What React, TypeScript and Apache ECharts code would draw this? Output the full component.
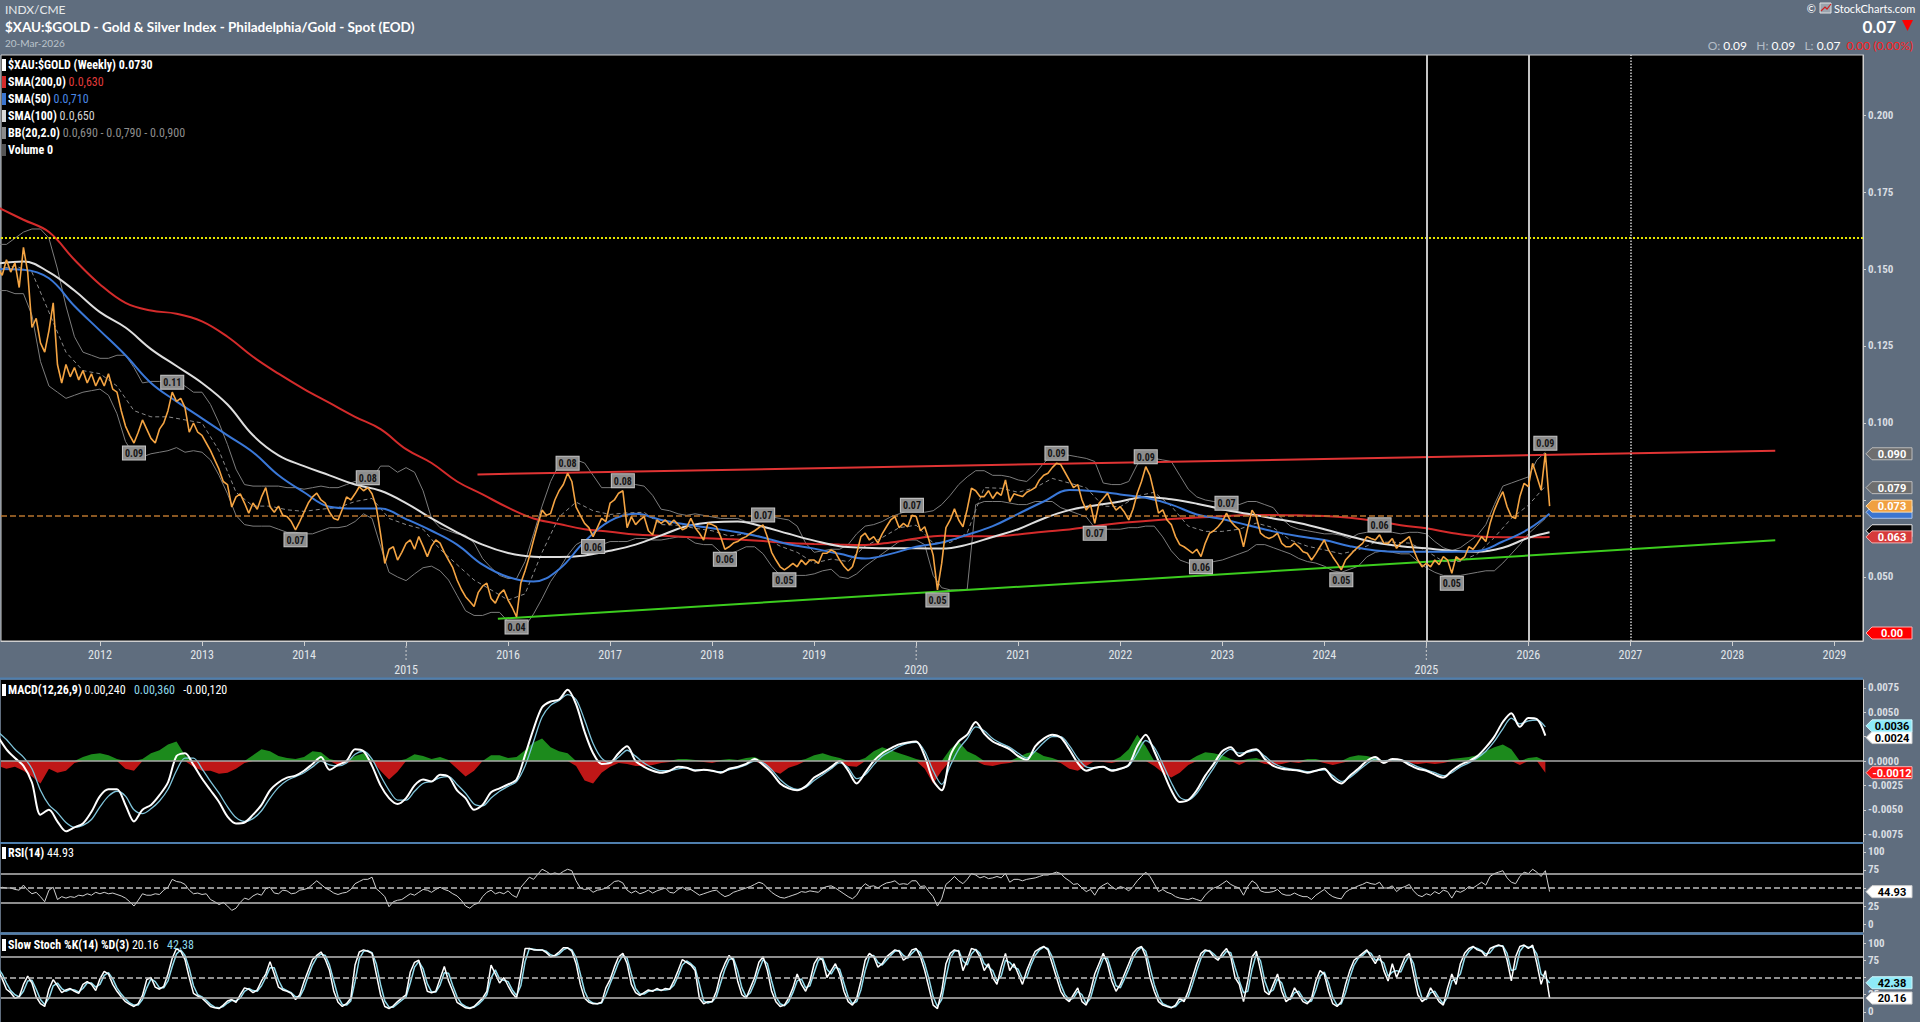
import React, { useEffect, useRef } from "react";
import * as echarts from "echarts";

// ---------------- axis extents / ticks ----------------
const X_MIN = 2011.03;
const X_MAX = 2029.28;
const YEAR_TICKS = [2012, 2013, 2014, 2015, 2016, 2017, 2018, 2019, 2020, 2021, 2022, 2023, 2024, 2025, 2026, 2027, 2028, 2029];
const MAIN_TICKS = [0.05, 0.075, 0.1, 0.125, 0.15, 0.175, 0.2];
const MACD_TICKS = [-0.0075, -0.005, -0.0025, 0, 0.0025, 0.005, 0.0075];
const OSC_TICKS = [0, 25, 50, 75, 100];
// tick labels that are not covered by the value tags
const MAIN_LABELS = [0.05, 0.1, 0.125, 0.15, 0.175, 0.2];
const MACD_LABELS = [-0.0075, -0.005, -0.0025, 0, 0.005, 0.0075];
const OSC_LABELS = [0, 25, 75, 100];

// ---------------- data ----------------
const START = 2011;
const LAST_DATE = 2026.208;
const SEMI = 1 / 24; // semi-monthly samples
const MONTH = 1 / 12;
const BIMONTH = 1 / 6;

// $XAU:$GOLD weekly close, sampled twice a month from Jan 2011
const price = [
  0.150, 0.148, 0.153, 0.149, 0.152, 0.144, 0.157, 0.149, 0.131, 0.134, 0.126, 0.123, 0.130, 0.139, 0.119, 0.113, 0.119, 0.115, 0.118, 0.114, 0.117, 0.113, 0.116, 0.112,
  0.115, 0.112, 0.116, 0.111, 0.110, 0.104, 0.099, 0.096, 0.0935, 0.097, 0.101, 0.098, 0.095, 0.0935, 0.098, 0.100, 0.104, 0.110, 0.107, 0.108, 0.105, 0.097, 0.100, 0.097,
  0.096, 0.0935, 0.091, 0.088, 0.085, 0.081, 0.080, 0.0727, 0.076, 0.077, 0.074, 0.0707, 0.074, 0.072, 0.076, 0.079, 0.0728, 0.071, 0.073, 0.070, 0.0696, 0.068, 0.0653, 0.068,
  0.071, 0.074, 0.076, 0.0772, 0.075, 0.074, 0.071, 0.069, 0.0685, 0.072, 0.076, 0.075, 0.077, 0.0793, 0.078, 0.079, 0.077, 0.0728, 0.064, 0.0544, 0.059, 0.0598, 0.0555, 0.058,
  0.0609, 0.062, 0.059, 0.0631, 0.060, 0.0566, 0.060, 0.062, 0.061, 0.058, 0.0555, 0.053, 0.049, 0.046, 0.0436, 0.042, 0.0404, 0.045, 0.047, 0.048, 0.043, 0.0415, 0.0445, 0.0458,
  0.0425, 0.040, 0.037, 0.048, 0.052, 0.0566, 0.062, 0.067, 0.0717, 0.070, 0.0706, 0.075, 0.078, 0.080, 0.0837, 0.081, 0.0727, 0.070, 0.0674, 0.066, 0.0631, 0.066, 0.069, 0.068,
  0.074, 0.075, 0.0772, 0.078, 0.066, 0.0696, 0.067, 0.0685, 0.0696, 0.065, 0.0637, 0.0685, 0.0674, 0.0685, 0.067, 0.0685, 0.067, 0.0653, 0.066, 0.069, 0.066, 0.0642, 0.062, 0.0674,
  0.067, 0.0663, 0.0631, 0.059, 0.0598, 0.061, 0.0615, 0.0625, 0.0631, 0.0642, 0.065, 0.066, 0.0669, 0.063, 0.058, 0.0555, 0.0533, 0.0523, 0.0533, 0.0544, 0.0533, 0.0555, 0.054, 0.0555,
  0.0555, 0.0544, 0.0577, 0.0577, 0.0588, 0.058, 0.0555, 0.0535, 0.052, 0.0533, 0.0577, 0.0631, 0.0642, 0.062, 0.0631, 0.061, 0.064, 0.0663, 0.0685, 0.0696, 0.066, 0.0674, 0.0663, 0.070,
  0.0696, 0.065, 0.0663, 0.062, 0.057, 0.0458, 0.0544, 0.066, 0.0685, 0.0721, 0.0685, 0.0663, 0.072, 0.0788, 0.078, 0.0761, 0.0761, 0.078, 0.0755, 0.0775, 0.0765, 0.0815, 0.0745, 0.077,
  0.0765, 0.0761, 0.0775, 0.0782, 0.079, 0.0815, 0.083, 0.0837, 0.0855, 0.0869, 0.0865, 0.084, 0.0815, 0.079, 0.080, 0.075, 0.0717, 0.0735, 0.0674, 0.0739, 0.0755, 0.0772, 0.074, 0.0717,
  0.0728, 0.071, 0.0685, 0.072, 0.0772, 0.081, 0.0858, 0.083, 0.0772, 0.0707, 0.0718, 0.0685, 0.067, 0.0631, 0.0605, 0.0598, 0.0588, 0.0577, 0.059, 0.0566, 0.061, 0.0642, 0.065, 0.0663,
  0.068, 0.0707, 0.068, 0.0665, 0.0653, 0.0598, 0.066, 0.0717, 0.0696, 0.0642, 0.0631, 0.0625, 0.0631, 0.0642, 0.0609, 0.0598, 0.0598, 0.061, 0.0598, 0.0582, 0.0577, 0.0555, 0.0575, 0.0598,
  0.062, 0.0588, 0.0565, 0.0545, 0.0523, 0.0555, 0.057, 0.0585, 0.0598, 0.0609, 0.0631, 0.0625, 0.062, 0.0637, 0.061, 0.0609, 0.0625, 0.0593, 0.061, 0.062, 0.0631, 0.0588, 0.0555, 0.0533,
  0.0544, 0.0533, 0.0555, 0.054, 0.0566, 0.0555, 0.0512, 0.0566, 0.0555, 0.0565, 0.0598, 0.059, 0.0609, 0.0631, 0.0615, 0.0674, 0.0717, 0.075, 0.0777, 0.0728, 0.0696, 0.069, 0.0761, 0.0804,
  0.0793, 0.0869, 0.0826, 0.0782, 0.0902, 0.073,
];

// swing-high / swing-low price labels (index into price, label above or below)
const PEAK_IDX = [32, 41, 70, 87, 122, 134, 140, 147, 171, 180, 185, 215, 221, 249, 258, 270, 283, 289, 316, 325, 342, 364];
const PEAK_SIDE = ["bottom", "top", "bottom", "top", "bottom", "top", "bottom", "top", "bottom", "top", "bottom", "top", "bottom", "top", "bottom", "top", "bottom", "top", "bottom", "top", "bottom", "top"];

// Moving averages, quarterly from Jan 2011 plus the last date
const sma200 = [
  0.170, 0.166, 0.162, 0.153, 0.145, 0.139, 0.1365, 0.1355, 0.133, 0.128, 0.1215, 0.116, 0.111, 0.1065, 0.102, 0.098,
  0.0915, 0.087, 0.081, 0.0768, 0.0725, 0.069, 0.0672, 0.0655, 0.0647, 0.0638, 0.0634, 0.063, 0.0625, 0.0622, 0.0617, 0.061,
  0.0607, 0.0605, 0.0604, 0.0612, 0.0625, 0.0634, 0.0632, 0.0632, 0.0638, 0.0647, 0.0654, 0.0665, 0.0675, 0.0682, 0.0688, 0.0693,
  0.0697, 0.0701, 0.0701, 0.070, 0.0698, 0.0692, 0.0682, 0.0668, 0.0658, 0.0643, 0.0632, 0.0629, 0.0629, 0.063,
];
const sma100 = [
  0.1518, 0.1524, 0.149, 0.143, 0.136, 0.131, 0.124, 0.1185, 0.113, 0.106, 0.096, 0.0895, 0.086, 0.083, 0.080, 0.078,
  0.074, 0.069, 0.0645, 0.0605, 0.0578, 0.0566, 0.0565, 0.057, 0.0585, 0.0605, 0.0635, 0.0665, 0.0678, 0.068, 0.0663, 0.064,
  0.0618, 0.060, 0.0595, 0.0593, 0.0593, 0.0592, 0.0605, 0.063, 0.0655, 0.069, 0.0717, 0.0732, 0.0745, 0.076, 0.0752, 0.0738,
  0.072, 0.0705, 0.069, 0.0675, 0.0655, 0.0632, 0.0612, 0.060, 0.0593, 0.0585, 0.0582, 0.0595, 0.0627, 0.0645,
];
const sma50 = [
  0.150, 0.1498, 0.147, 0.138, 0.130, 0.122, 0.113, 0.107, 0.1015, 0.096, 0.0905, 0.083, 0.0775, 0.0728, 0.0722, 0.0722,
  0.0688, 0.065, 0.0605, 0.054, 0.050, 0.0485, 0.0525, 0.0615, 0.0682, 0.0705, 0.0685, 0.067, 0.0658, 0.0645, 0.0628, 0.0606,
  0.0592, 0.0575, 0.056, 0.0575, 0.0598, 0.0612, 0.0637, 0.0665, 0.0705, 0.0745, 0.0782, 0.0778, 0.0768, 0.0757, 0.0735, 0.0703,
  0.0688, 0.0668, 0.0648, 0.0632, 0.062, 0.060, 0.0586, 0.0582, 0.0582, 0.0582, 0.0584, 0.0615, 0.0655, 0.0705,
];

// Bollinger Bands (20, 2.0), monthly
const bbUpper = [
  0.158, 0.158, 0.160, 0.162, 0.163, 0.163, 0.160, 0.150, 0.138, 0.128, 0.123, 0.122,
  0.121, 0.121, 0.122, 0.122, 0.118, 0.113, 0.1135, 0.1135, 0.1135, 0.113, 0.112, 0.110,
  0.110, 0.106, 0.100, 0.093, 0.085, 0.080, 0.0795, 0.0795, 0.0795, 0.0795, 0.079, 0.079,
  0.0785, 0.079, 0.0795, 0.079, 0.079, 0.080, 0.081, 0.0815, 0.082, 0.086, 0.086, 0.084,
  0.0855, 0.084, 0.078, 0.069, 0.066, 0.065, 0.064, 0.0635, 0.061, 0.056, 0.053, 0.0505,
  0.0495, 0.0495, 0.055, 0.064, 0.073, 0.081, 0.0865, 0.088, 0.088, 0.087, 0.083, 0.079,
  0.079, 0.0795, 0.080, 0.080, 0.0795, 0.0765, 0.072, 0.0715, 0.0705, 0.070, 0.0705, 0.070,
  0.0695, 0.069, 0.069, 0.069, 0.068, 0.068, 0.0685, 0.0695, 0.069, 0.0685, 0.0665, 0.061,
  0.058, 0.0585, 0.059, 0.059, 0.0605, 0.064, 0.0665, 0.067, 0.068, 0.0695, 0.0705, 0.0715,
  0.0715, 0.071, 0.0715, 0.0735, 0.0765, 0.080, 0.0825, 0.0845, 0.0845, 0.083, 0.083, 0.0825,
  0.0815, 0.081, 0.0835, 0.087, 0.0895, 0.090, 0.0895, 0.089, 0.0885, 0.0875, 0.0805, 0.080,
  0.080, 0.081, 0.0865, 0.0885, 0.0885, 0.088, 0.0875, 0.083, 0.0785, 0.076, 0.075, 0.0745,
  0.074, 0.0745, 0.0735, 0.0745, 0.0745, 0.0735, 0.0725, 0.069, 0.0665, 0.0655, 0.065, 0.0645,
  0.064, 0.064, 0.0635, 0.0625, 0.064, 0.0645, 0.0645, 0.0645, 0.0645, 0.064, 0.0645, 0.0645,
  0.064, 0.0615, 0.0595, 0.0585, 0.0595, 0.0615, 0.0635, 0.067, 0.0735, 0.0795, 0.0805, 0.0815,
  0.0825, 0.088, 0.0905,
];
const bbLower = [
  0.143, 0.143, 0.142, 0.142, 0.135, 0.120, 0.112, 0.110, 0.108, 0.109, 0.110, 0.1105,
  0.111, 0.109, 0.103, 0.094, 0.0895, 0.089, 0.090, 0.0905, 0.091, 0.092, 0.0905, 0.091,
  0.0905, 0.088, 0.083, 0.077, 0.070, 0.067, 0.0665, 0.0665, 0.0665, 0.0655, 0.0645, 0.0645,
  0.064, 0.064, 0.065, 0.066, 0.066, 0.0665, 0.068, 0.0705, 0.069, 0.060, 0.0515, 0.050,
  0.0488, 0.051, 0.053, 0.0535, 0.052, 0.049, 0.044, 0.039, 0.0375, 0.0375, 0.0385, 0.0385,
  0.0355, 0.033, 0.034, 0.038, 0.043, 0.0485, 0.0525, 0.057, 0.0605, 0.062, 0.060, 0.0605,
  0.0615, 0.0615, 0.0615, 0.0625, 0.0625, 0.062, 0.062, 0.0625, 0.063, 0.0628, 0.061, 0.0605,
  0.0605, 0.058, 0.0575, 0.0585, 0.0598, 0.0598, 0.0575, 0.0535, 0.0505, 0.0495, 0.0505, 0.0505,
  0.051, 0.052, 0.0525, 0.050, 0.0495, 0.051, 0.0535, 0.0555, 0.0575, 0.0595, 0.0615, 0.062,
  0.062, 0.0605, 0.0505, 0.0465, 0.0458, 0.0458, 0.046, 0.0735, 0.0745, 0.0745, 0.0745, 0.074,
  0.0735, 0.0735, 0.0745, 0.0745, 0.0745, 0.0725, 0.0715, 0.0705, 0.0695, 0.066, 0.0655, 0.0655,
  0.0655, 0.066, 0.066, 0.0665, 0.0665, 0.063, 0.0585, 0.0555, 0.0545, 0.0545, 0.0545, 0.055,
  0.0555, 0.0565, 0.0575, 0.0585, 0.0605, 0.0605, 0.0595, 0.0585, 0.0575, 0.056, 0.055, 0.0545,
  0.0535, 0.052, 0.0515, 0.0525, 0.0535, 0.0565, 0.058, 0.0585, 0.058, 0.0575, 0.0575, 0.055,
  0.053, 0.0515, 0.0505, 0.0505, 0.0505, 0.051, 0.0515, 0.052, 0.052, 0.0545, 0.0575, 0.0605,
  0.064, 0.0665, 0.069,
];
// BB middle band, every two months
const bbMid = [
  0.150, 0.151, 0.149, 0.136, 0.123, 0.117, 0.116, 0.112, 0.104, 0.102, 0.102, 0.101,
  0.100, 0.091, 0.0775, 0.073, 0.073, 0.0718, 0.0713, 0.072, 0.0725, 0.0745, 0.0755, 0.069,
  0.067, 0.0655, 0.059, 0.054, 0.049, 0.0458, 0.0425, 0.0445, 0.058, 0.0695, 0.0743, 0.0715,
  0.0703, 0.0708, 0.071, 0.067, 0.0668, 0.0658, 0.065, 0.0633, 0.064, 0.063, 0.060, 0.058,
  0.0545, 0.0558, 0.055, 0.060, 0.0628, 0.066, 0.0668, 0.061, 0.0612, 0.0643, 0.079, 0.0788,
  0.0775, 0.079, 0.082, 0.0805, 0.079, 0.073, 0.0728, 0.0763, 0.0775, 0.073, 0.0665, 0.0648,
  0.0648, 0.0655, 0.0675, 0.066, 0.062, 0.060, 0.0588, 0.0575, 0.0588, 0.0613, 0.0613, 0.061,
  0.0585, 0.055, 0.055, 0.0575, 0.0628, 0.069, 0.0733, 0.0795,
];

// Trend lines drawn on the chart: [year, value] end points
const resistanceLine = [[2015.7, 0.0833], [2028.42, 0.091]];
const supportLine = [[2015.9, 0.0364], [2028.42, 0.0619]];
const YELLOW_LEVEL = 0.1625;
const LAST_CLOSE = 0.073;
const MARKED_YEARS = [2025, 2026];
const DOTTED_YEAR = 2027;

// MACD(12,26,9), monthly
const macd = [
  0.0025, 0.0012, 0.0003, -0.0005, -0.0022, -0.0055, -0.005, -0.0062, -0.0072, -0.0068, -0.0064, -0.0052,
  -0.0036, -0.0029, -0.0029, -0.0045, -0.0062, -0.005, -0.0045, -0.0035, -0.0022, 0.0005, 0.0008, -0.0004,
  -0.0018, -0.003, -0.0042, -0.0057, -0.0064, -0.0063, -0.0055, -0.0045, -0.003, -0.0022, -0.0017, -0.0015,
  -0.001, -0.0003, 0.0004, -0.0009, -0.0004, 0, 0.0012, 0.001, -0.0005, -0.0025, -0.0038, -0.0044,
  -0.0038, -0.0025, -0.0019, -0.0021, -0.0014, -0.0016, -0.003, -0.0038, -0.005, -0.0045, -0.0032, -0.0028,
  -0.0024, -0.0019, 0.0006, 0.0033, 0.0055, 0.0061, 0.0063, 0.0073, 0.0058, 0.003, 0.0008, -0.0003,
  -0.0002, 0.0008, 0.0015, 0, -0.0006, -0.001, -0.0012, -0.001, -0.0006, -0.0007, -0.001, -0.0009,
  -0.001, -0.0012, -0.0008, -0.0006, -0.0003, 0.0002, -0.0004, -0.0012, -0.0023, -0.0028, -0.003, -0.0026,
  -0.0017, -0.0012, -0.0006, 0, -0.001, -0.0023, -0.0012, 0, 0.0008, 0.0013, 0.0017, 0.0019,
  0.002, 0.0005, -0.002, -0.003, 0.0005, 0.002, 0.0027, 0.004, 0.0028, 0.002, 0.0016, 0.0012,
  0.0005, 0.0001, 0.0015, 0.0023, 0.0027, 0.0024, 0.0012, -0.0002, -0.001, -0.0007, -0.0006, -0.001,
  -0.0008, -0.0004, 0.0015, 0.0027, 0.001, -0.001, -0.003, -0.0042, -0.004, -0.003, -0.0015, -0.0003,
  0.001, 0.0014, 0.0005, 0.001, 0.0012, 0.0002, -0.0005, -0.0008, -0.0009, -0.001, -0.0012, -0.001,
  -0.0008, -0.0018, -0.0023, -0.0015, -0.0008, 0, 0.0004, -0.0002, 0.0002, 0.0001, -0.0004, -0.0008,
  -0.001, -0.0014, -0.0017, -0.001, -0.0004, 0, 0.0005, 0.0014, 0.0025, 0.004, 0.0049, 0.0035,
  0.0044, 0.0043, 0.0026,
];
const macdSignal = [
  0.003, 0.0022, 0.0012, 0.0004, -0.0008, -0.003, -0.0045, -0.0053, -0.0063, -0.0068, -0.0066, -0.006,
  -0.0047, -0.0036, -0.0031, -0.0036, -0.005, -0.0054, -0.0049, -0.0041, -0.0029, -0.001, 0.0003, 0.0003,
  -0.0008, -0.0021, -0.0033, -0.0047, -0.0058, -0.0062, -0.0059, -0.0051, -0.0038, -0.0027, -0.002, -0.0016,
  -0.0012, -0.0006, 0, -0.0004, -0.0005, -0.0002, 0.0007, 0.001, 0.0002, -0.0015, -0.003, -0.004,
  -0.004, -0.0031, -0.0023, -0.0021, -0.0017, -0.0016, -0.0024, -0.0033, -0.0044, -0.0046, -0.0038, -0.0031,
  -0.0026, -0.0021, -0.0005, 0.002, 0.0045, 0.0057, 0.0062, 0.0068, 0.0063, 0.0042, 0.0018, 0.0003,
  -0.0002, 0.0004, 0.0011, 0.0005, -0.0002, -0.0007, -0.001, -0.001, -0.0008, -0.0007, -0.0009, -0.0009,
  -0.001, -0.0011, -0.0009, -0.0007, -0.0004, 0, -0.0002, -0.0009, -0.0019, -0.0026, -0.0029, -0.0027,
  -0.002, -0.0014, -0.0008, -0.0002, -0.0007, -0.0018, -0.0014, -0.0004, 0.0005, 0.001, 0.0015, 0.0018,
  0.0019, 0.001, -0.001, -0.0024, -0.0005, 0.0012, 0.0023, 0.0035, 0.0031, 0.0023, 0.0018, 0.0014,
  0.0008, 0.0003, 0.001, 0.0019, 0.0025, 0.0025, 0.0016, 0.0003, -0.0006, -0.0007, -0.0006, -0.0009,
  -0.0008, -0.0005, 0.0008, 0.0021, 0.0014, -0.0003, -0.0022, -0.0037, -0.004, -0.0033, -0.002, -0.0007,
  0.0006, 0.0012, 0.0008, 0.0009, 0.0011, 0.0005, -0.0002, -0.0006, -0.0008, -0.0009, -0.0011, -0.001,
  -0.0009, -0.0015, -0.0021, -0.0017, -0.001, -0.0003, 0.0002, 0, 0.0001, 0.0001, -0.0002, -0.0006,
  -0.0009, -0.0012, -0.0015, -0.0012, -0.0006, -0.0002, 0.0003, 0.001, 0.002, 0.0033, 0.0044, 0.0038,
  0.0041, 0.0042, 0.0035,
];
const macdHist = [
  -0.0005, -0.0008, -0.0006, -0.001, -0.0016, -0.0023, -0.0008, -0.0012, -0.001, -0.0002, 0.0004, 0.0007,
  0.0008, 0.0006, 0.0002, -0.0008, -0.001, 0.0002, 0.0008, 0.0011, 0.0017, 0.002, 0.0006, -0.0006,
  -0.001, -0.001, -0.0013, -0.0012, -0.0008, -0.0002, 0.0006, 0.0012, 0.001, 0.0005, 0.0003, 0.0002,
  0.0004, 0.001, 0.0009, 0.0002, -0.0004, -0.0002, 0.0005, 0.0008, 0.0001, -0.001, -0.0019, -0.0011,
  0.0002, 0.0007, 0.0005, 0.0002, 0.0004, 0.0001, -0.0008, -0.0016, -0.001, 0, 0.0006, 0.0006,
  0.0003, 0.0004, 0.0011, 0.0019, 0.0023, 0.0014, 0.001, 0.0008, -0.0005, -0.002, -0.0023, -0.0012,
  -0.0006, -0.0002, -0.0003, -0.0005, -0.0005, -0.0004, -0.0002, -0.0001, 0.0002, 0.0002, 0.0001, -0.0001,
  -0.0002, 0.0001, 0.0002, 0.0001, 0.0003, 0.0004, -0.0004, -0.001, -0.0013, -0.0007, -0.0004, 0.0002,
  0.0006, 0.0008, 0.0005, 0.0003, -0.0005, -0.0006, 0.0003, 0.001, 0.0014, 0.0011, 0.0008, 0.0005,
  0.0002, -0.0008, -0.0023, -0.001, 0.0012, 0.002, 0.001, 0.0006, -0.0004, -0.0005, -0.0003, -0.0002,
  0.0004, 0.0008, 0.001, 0.0005, 0.0003, -0.0002, -0.0008, -0.001, -0.0005, 0, -0.0001, -0.0002,
  0.0004, 0.0012, 0.0027, 0.0015, -0.0005, -0.0012, -0.0017, -0.0012, -0.0004, 0.0005, 0.0009, 0.0008,
  0.0006, 0.0002, -0.0004, 0.0002, 0.0003, -0.0003, -0.0004, -0.0003, -0.0001, -0.0002, 0.0002, 0.0002,
  -0.0002, -0.0004, -0.0002, 0.0004, 0.0006, 0.0005, 0.0003, -0.0002, 0.0002, 0.0001, -0.0002, -0.0003,
  -0.0002, -0.0003, -0.0002, 0.0002, 0.0003, 0.0004, 0.0006, 0.001, 0.0014, 0.0017, 0.0012, -0.0004,
  0.0003, 0.0004, -0.0012,
];

// RSI(14), semi-monthly
const rsi = [
  49, 51, 50, 50, 48, 47, 54, 47, 42, 44, 38, 31, 47, 51, 34, 38, 36, 38, 37, 40, 39, 42, 40, 44,
  42, 44, 42, 43, 41, 39, 36, 31, 25, 33, 42, 40, 40, 42, 41, 47, 51, 62, 59, 58, 55, 47, 42, 43,
  41, 42, 34, 31, 27, 30, 25, 19, 22, 30, 36, 34, 39, 42, 40, 49, 51, 43, 42, 47, 46, 42, 43, 47,
  48, 50, 55, 60, 55, 50, 47, 43, 41, 43, 44, 48, 56, 59, 62, 62, 65, 49, 44, 38, 24, 31, 33, 34,
  38, 42, 40, 44, 48, 47, 44, 48, 51, 48, 46, 42, 39, 33, 25, 22, 27, 29, 38, 44, 47, 42, 44, 42,
  46, 40, 37, 51, 58, 65, 62, 69, 76, 73, 69, 71, 69, 73, 76, 74, 60, 50, 48, 49, 44, 47, 48, 50,
  54, 59, 60, 57, 47, 43, 46, 42, 44, 47, 43, 46, 48, 50, 44, 43, 48, 51, 47, 48, 44, 40, 42, 44,
  46, 47, 42, 38, 40, 44, 46, 48, 50, 52, 55, 58, 56, 50, 44, 40, 37, 36, 38, 40, 42, 45, 44, 46,
  45, 44, 50, 52, 53, 50, 46, 42, 38, 35, 40, 50, 56, 52, 53, 50, 54, 57, 58, 60, 55, 56, 55, 60,
  60, 52, 53, 45, 38, 25, 35, 55, 60, 66, 60, 56, 62, 70, 68, 64, 66, 63, 64, 66, 64, 70, 58, 62,
  62, 60, 62, 63, 64, 66, 68, 68, 70, 72, 70, 64, 60, 55, 56, 50, 45, 48, 40, 50, 54, 57, 52, 48,
  52, 50, 46, 52, 60, 66, 72, 66, 56, 45, 48, 44, 42, 38, 36, 35, 34, 36, 34, 32, 40, 46, 50, 52,
  56, 60, 55, 52, 50, 40, 52, 60, 56, 46, 44, 44, 45, 48, 42, 40, 40, 43, 40, 38, 38, 34, 40, 44,
  48, 42, 38, 36, 35, 44, 48, 50, 53, 55, 58, 56, 55, 58, 50, 50, 53, 45, 50, 52, 55, 46, 40, 38,
  42, 40, 45, 42, 47, 45, 36, 46, 44, 47, 52, 50, 54, 58, 54, 66, 70, 72, 74, 64, 58, 56, 66, 72,
  70, 76, 72, 66, 74, 45,
];
const RSI_HIGH = 70;
const RSI_LOW = 30;

// Slow Stochastic %K(14) and %D(3), semi-monthly
const stochK = [
  61, 48, 33, 28, 20, 22, 40, 52, 42, 22, 12, 8, 33, 47, 38, 28, 32, 34, 30, 27, 40, 44, 40, 31,
  48, 59, 55, 40, 30, 22, 15, 11, 8, 12, 24, 47, 50, 36, 33, 37, 55, 78, 92, 88, 76, 50, 27, 23,
  20, 14, 8, 6, 5, 10, 16, 18, 14, 25, 35, 33, 28, 32, 45, 55, 73, 55, 36, 32, 30, 27, 18, 25,
  44, 60, 76, 82, 87, 76, 60, 30, 14, 8, 12, 20, 68, 87, 90, 88, 85, 55, 25, 8, 5, 9, 15, 20,
  25, 58, 72, 75, 52, 30, 28, 30, 48, 66, 45, 30, 14, 10, 6, 5, 8, 14, 20, 30, 68, 55, 42, 50,
  38, 27, 20, 55, 92, 92, 90, 90, 90, 86, 80, 82, 87, 93, 93, 88, 70, 40, 20, 14, 12, 12, 14, 35,
  47, 65, 80, 85, 70, 40, 28, 24, 28, 32, 30, 34, 31, 34, 33, 45, 60, 76, 72, 68, 60, 20, 12, 15,
  15, 30, 55, 70, 82, 75, 45, 25, 20, 35, 50, 72, 80, 60, 30, 15, 8, 10, 20, 35, 55, 40, 30, 45,
  70, 80, 75, 50, 60, 70, 55, 30, 15, 10, 20, 45, 75, 85, 80, 65, 70, 80, 85, 90, 88, 75, 80, 90,
  92, 80, 60, 35, 10, 5, 30, 70, 85, 90, 88, 60, 75, 92, 90, 80, 60, 70, 50, 40, 65, 85, 60, 70,
  55, 40, 60, 75, 88, 92, 95, 90, 70, 50, 30, 20, 15, 25, 35, 15, 10, 30, 55, 70, 85, 70, 45, 30,
  40, 55, 70, 85, 92, 95, 80, 50, 30, 15, 10, 8, 6, 10, 20, 15, 30, 50, 70, 85, 90, 88, 80, 75,
  85, 92, 80, 50, 40, 15, 45, 80, 88, 60, 30, 25, 40, 55, 30, 15, 20, 35, 25, 15, 12, 20, 45, 60,
  55, 30, 12, 8, 15, 40, 60, 75, 80, 85, 90, 80, 70, 82, 60, 45, 70, 50, 65, 80, 85, 55, 25, 15,
  20, 35, 25, 15, 10, 35, 55, 40, 70, 85, 92, 95, 90, 88, 80, 92, 95, 97, 95, 75, 45, 80, 95, 97,
  92, 97, 70, 40, 60, 20,
];
const stochD = [
  64, 55, 42, 31, 25, 22, 30, 45, 46, 33, 18, 11, 20, 38, 42, 34, 30, 33, 32, 29, 34, 42, 42, 36,
  40, 53, 57, 48, 35, 26, 19, 13, 10, 10, 18, 35, 48, 44, 35, 35, 45, 66, 84, 90, 82, 63, 38, 25,
  22, 17, 11, 7, 6, 8, 13, 17, 16, 20, 30, 34, 31, 30, 38, 50, 64, 64, 46, 34, 31, 28, 22, 22,
  34, 52, 68, 79, 84, 82, 68, 45, 22, 11, 10, 16, 44, 77, 88, 89, 86, 70, 40, 16, 7, 7, 12, 17,
  22, 42, 65, 73, 63, 41, 29, 29, 39, 57, 56, 38, 22, 12, 8, 6, 7, 11, 17, 25, 49, 61, 48, 46,
  44, 32, 24, 38, 73, 92, 91, 90, 90, 88, 83, 81, 84, 90, 93, 90, 79, 55, 30, 17, 13, 12, 13, 25,
  41, 56, 72, 82, 78, 55, 34, 26, 26, 30, 31, 32, 32, 32, 33, 39, 52, 68, 74, 70, 64, 40, 16, 13,
  15, 22, 42, 62, 76, 78, 60, 35, 22, 28, 42, 61, 76, 70, 45, 22, 12, 9, 15, 28, 45, 48, 35, 38,
  57, 75, 78, 62, 55, 65, 62, 42, 22, 12, 15, 32, 60, 80, 82, 72, 68, 75, 82, 88, 89, 82, 78, 85,
  91, 86, 70, 48, 22, 8, 18, 50, 78, 88, 89, 74, 68, 84, 91, 85, 70, 65, 60, 45, 52, 75, 72, 65,
  62, 48, 50, 68, 82, 90, 94, 92, 80, 60, 40, 25, 18, 20, 30, 25, 12, 20, 42, 62, 78, 78, 58, 38,
  35, 48, 62, 78, 88, 94, 88, 65, 40, 22, 12, 9, 7, 8, 15, 18, 22, 40, 60, 78, 88, 89, 84, 78,
  80, 88, 86, 65, 45, 28, 30, 62, 84, 74, 45, 28, 32, 48, 42, 22, 18, 28, 30, 20, 14, 16, 32, 52,
  58, 42, 21, 10, 12, 28, 50, 68, 78, 82, 88, 85, 75, 76, 71, 52, 58, 60, 58, 72, 82, 70, 40, 20,
  18, 28, 30, 20, 12, 22, 45, 48, 55, 78, 88, 94, 92, 89, 84, 86, 94, 96, 96, 85, 60, 62, 88, 96,
  94, 94, 84, 55, 50, 42,
];

// Last values shown in the price tags on the right axes (text "" = tag hidden behind others)
const MAIN_TAGS = [
  { v: 0.065, text: "", bg: "#050505", border: "#e8e8e8", fg: "#ffffff" },
  { v: 0.071, text: "", bg: "#3a75d0", border: "#a8c4ee", fg: "#ffffff" },
  { v: 0.063, text: "0.063", bg: "#d63a3a", border: "#f3b0b0", fg: "#ffffff" },
  { v: 0.079, text: "0.079", bg: "#6e6e6e", border: "#bdbdbd", fg: "#ffffff" },
  { v: 0.090, text: "0.090", bg: "#6e6e6e", border: "#bdbdbd", fg: "#ffffff" },
  { v: 0.073, text: "0.073", bg: "#f0a040", border: "#ffe0b0", fg: "#ffffff" },
];
const MACD_TAGS = [
  { v: -0.0012, text: "-0.0012", bg: "#ff1414", border: "#ffb0b0", fg: "#ffffff" },
  { v: 0.0024, text: "0.0024", bg: "#ffffff", border: "#d0d0d0", fg: "#000000" },
  { v: 0.0036, text: "0.0036", bg: "#8eeaf8", border: "#d0f6fc", fg: "#000000" },
];
const RSI_TAGS = [{ v: 44.93, text: "44.93", bg: "#ffffff", border: "#d0d0d0", fg: "#000000" }];
const STOCH_TAGS = [
  { v: 20.16, text: "20.16", bg: "#ffffff", border: "#d0d0d0", fg: "#000000" },
  { v: 42.38, text: "42.38", bg: "#8eeaf8", border: "#d0f6fc", fg: "#000000" },
];

// Legend texts
const MAIN_LEGEND = [
  { sw: "#ffffff", name: "$XAU:$GOLD (Weekly) 0.0730", val: "", col: "#ffffff" },
  { sw: "#d42b2b", name: "SMA(200,0)", val: "0.0,630", col: "#e23b3b" },
  { sw: "#3a75d0", name: "SMA(50)", val: "0.0,710", col: "#4a88e6" },
  { sw: "#d8d8d8", name: "SMA(100)", val: "0.0,650", col: "#d4d4d4" },
  { sw: "#8a8a8a", name: "BB(20,2.0)", val: "0.0,690 - 0.0,790 - 0.0,900", col: "#8e8e8e" },
  { sw: "#555555", name: "Volume 0", val: "", col: "#ffffff" },
];

// ---------------- styling / layout ----------------
const BG = "#5f6d7e";
const NARROW = "'Liberation Sans Narrow','Arial Narrow','Roboto Condensed','DejaVu Sans Condensed',sans-serif";
const LATO = "Lato, 'Open Sans', sans-serif";
const GRIDS = [
  { left: 1, top: 55, width: 1862, height: 586 },
  { left: 1, top: 680, width: 1862, height: 162 },
  { left: 1, top: 844, width: 1862, height: 88 },
  { left: 1, top: 935, width: 1862, height: 87 },
];
const Y_RANGES: [number, number][] = [
  [0.0292, 0.2195],
  [-0.0083, 0.0083],
  [-11, 111],
  [-14.5, 111.6],
];

const xy = (arr: number[], step: number, start = START) => arr.map((v, i) => [start + i * step, v]);
const smaYears = [...Array.from({ length: 61 }, (_, i) => START + i * 0.25), LAST_DATE];
const xyYears = (arr: number[]) => arr.map((v, i) => [smaYears[i], v]);

function tagEls(x: number, y: number, t: { text: string; bg: string; border: string; fg: string }) {
  const w = 46;
  const h = 12;
  const els: any[] = [
    {
      type: "polygon",
      z: 100,
      shape: { points: [[x, y], [x + 6, y - h / 2], [x + w, y - h / 2], [x + w, y + h / 2], [x + 6, y + h / 2]] },
      style: { fill: t.bg, stroke: t.border, lineWidth: 1 },
    },
  ];
  if (t.text) {
    els.push({
      type: "text",
      z: 101,
      x: x + 6 + (w - 6) / 2,
      y: y + 0.5,
      style: {
        text: t.text,
        fill: t.fg,
        font: "bold 11px Roboto, sans-serif",
        textAlign: "center",
        textVerticalAlign: "middle",
        align: "center",
        verticalAlign: "middle",
      },
    });
  }
  return els;
}

function txt(x: number, y: number, text: string, font: string, fill: string, align = "left", rich?: any) {
  return {
    type: "text",
    z: 50,
    x,
    y,
    style: {
      text,
      font,
      fill,
      textAlign: align,
      align,
      textVerticalAlign: "middle",
      verticalAlign: "middle",
      rich,
    },
  };
}

export default function App() {
  const ref = useRef<HTMLDivElement>(null);

  useEffect(() => {
    if (!ref.current) return;
    const chart = echarts.init(ref.current, undefined, { renderer: "svg" });

    const lineBase = (data: any, color: string, width: number, extra: any = {}) => ({
      type: "line",
      data,
      symbol: "none",
      silent: true,
      lineStyle: { color, width },
      ...extra,
    });

    const hline = (v: number, color: string, type: any, width = 1.5) => ({
      yAxis: v,
      lineStyle: { color, type, width },
    });

    const option: any = {
      animation: false,
      backgroundColor: BG,
      grid: GRIDS.map((g, i) => ({
        ...g,
        show: true,
        backgroundColor: "#000000",
        borderWidth: i === 0 ? 1 : 0,
        borderColor: "#cfcfcf",
        containLabel: false,
      })),
      xAxis: [0, 1, 2, 3].map((i) => ({
        gridIndex: i,
        type: "value",
        min: X_MIN,
        max: X_MAX,
        axisLine: { show: i === 0, lineStyle: { color: "#cfcfcf" } },
        axisTick: { show: i === 0, customValues: YEAR_TICKS, length: 5, lineStyle: { color: "#cfcfcf" } },
        axisLabel: {
          show: i === 0,
          customValues: YEAR_TICKS,
          formatter: (v: number) => (Math.round(v) % 5 === 0 ? "\n" : "") + Math.round(v),
          color: "#e2e6ea",
          fontSize: 12,
          fontFamily: NARROW,
          lineHeight: 15,
          margin: 6,
        },
        splitLine: { show: false },
      })),
      yAxis: [0, 1, 2, 3].map((i) => ({
        gridIndex: i,
        type: "value",
        position: "right",
        min: Y_RANGES[i][0],
        max: Y_RANGES[i][1],
        axisLine: { show: true, lineStyle: { color: "#cfcfcf" } },
        axisTick: {
          show: true,
          length: 3,
          customValues: i === 0 ? MAIN_TICKS : i === 1 ? MACD_TICKS : OSC_TICKS,
          lineStyle: { color: "#cfcfcf" },
        },
        axisLabel: {
          customValues: i === 0 ? MAIN_LABELS : i === 1 ? MACD_LABELS : OSC_LABELS,
          formatter: (v: number) => (i === 0 ? v.toFixed(3) : i === 1 ? v.toFixed(4) : String(Math.round(v))),
          color: "#d9dde2",
          fontSize: 11,
          fontWeight: "bold",
          fontFamily: NARROW,
          margin: 5,
        },
        splitLine: { show: false },
      })),
      series: [
        // ---- main panel
        lineBase(xy(bbUpper, MONTH), "#7c7c7c", 1),
        lineBase(xy(bbLower, MONTH), "#7c7c7c", 1),
        lineBase(xy(bbMid, BIMONTH), "#8a8a8a", 1, { lineStyle: { color: "#8a8a8a", width: 1, type: [4, 3] } }),
        lineBase(xyYears(sma200), "#d42b2b", 2, { smooth: 0.4 }),
        lineBase(xyYears(sma100), "#dedede", 2, { smooth: 0.4 }),
        lineBase(xyYears(sma50), "#3a78d8", 2, { smooth: 0.4 }),
        lineBase(xy(price, SEMI), "#f4a443", 1.6, {
          z: 5,
          markLine: {
            symbol: ["none", "none"],
            silent: true,
            label: { show: false },
            data: [
              hline(YELLOW_LEVEL, "#e2e200", "dotted", 2),
              hline(LAST_CLOSE, "#b8742e", "dashed", 1.5),
              ...MARKED_YEARS.map((yr) => ({ xAxis: yr, lineStyle: { color: "#c4c4c4", type: "solid", width: 2 } })),
              { xAxis: DOTTED_YEAR, lineStyle: { color: "#cfcfcf", type: "dotted", width: 1.5 } },
            ],
          },
          markPoint: {
            symbol: "circle",
            symbolSize: 1,
            silent: true,
            itemStyle: { color: "rgba(0,0,0,0)" },
            label: {
              show: true,
              formatter: "{b}",
              color: "#151515",
              fontSize: 10,
              fontWeight: "bold",
              fontFamily: NARROW,
              backgroundColor: "#8d8d8d",
              borderColor: "#c4c4c4",
              borderWidth: 1,
              padding: [2, 2, 1, 2],
              distance: 3,
            },
            data: PEAK_IDX.map((idx, k) => ({
              name: price[idx].toFixed(2),
              coord: [START + idx * SEMI, price[idx]],
              label: { position: PEAK_SIDE[k] },
            })),
          },
        }),
        lineBase(resistanceLine, "#e03434", 2),
        lineBase(supportLine, "#3ccd1e", 2),
        // ---- MACD panel
        lineBase(xy(macdHist.map((v) => (v > 0 ? v : 0)), MONTH), "#1c8c1c", 0, {
          xAxisIndex: 1,
          yAxisIndex: 1,
          lineStyle: { width: 0, opacity: 0 },
          areaStyle: { color: "#1c8a1c", opacity: 1, origin: "auto" },
        }),
        lineBase(xy(macdHist.map((v) => (v < 0 ? v : 0)), MONTH), "#c01a1a", 0, {
          xAxisIndex: 1,
          yAxisIndex: 1,
          lineStyle: { width: 0, opacity: 0 },
          areaStyle: { color: "#bf1717", opacity: 1, origin: "auto" },
        }),
        lineBase(xy(macdSignal, MONTH), "#7fc4da", 1.3, { xAxisIndex: 1, yAxisIndex: 1, smooth: 0.3 }),
        lineBase(xy(macd, MONTH), "#ffffff", 2, {
          xAxisIndex: 1,
          yAxisIndex: 1,
          smooth: 0.3,
          markLine: {
            symbol: ["none", "none"],
            silent: true,
            label: { show: false },
            data: [hline(0, "#a8a8a8", "solid", 1.5)],
          },
        }),
        // ---- RSI panel
        lineBase(xy(rsi.map(() => RSI_HIGH), SEMI), "#000", 0, {
          xAxisIndex: 2, yAxisIndex: 2, stack: "ob", lineStyle: { width: 0, opacity: 0 },
        }),
        lineBase(xy(rsi.map((v) => Math.max(v - RSI_HIGH, 0)), SEMI), "#000", 0, {
          xAxisIndex: 2, yAxisIndex: 2, stack: "ob", lineStyle: { width: 0, opacity: 0 },
          areaStyle: { color: "#9a2424", opacity: 1 },
        }),
        lineBase(xy(rsi.map((v) => Math.min(v, RSI_LOW)), SEMI), "#000", 0, {
          xAxisIndex: 2, yAxisIndex: 2, stack: "os", lineStyle: { width: 0, opacity: 0 },
        }),
        lineBase(xy(rsi.map((v) => Math.max(RSI_LOW - v, 0)), SEMI), "#000", 0, {
          xAxisIndex: 2, yAxisIndex: 2, stack: "os", lineStyle: { width: 0, opacity: 0 },
          areaStyle: { color: "#3f7a2a", opacity: 1 },
        }),
        lineBase(xy(rsi, SEMI), "#cfcfcf", 1, {
          xAxisIndex: 2,
          yAxisIndex: 2,
          markLine: {
            symbol: ["none", "none"],
            silent: true,
            label: { show: false },
            data: [
              hline(RSI_HIGH, "#bdbdbd", "solid", 1.5),
              hline(RSI_LOW, "#bdbdbd", "solid", 1.5),
              hline(50, "#bdbdbd", "dashed", 1.5),
            ],
          },
        }),
        // ---- Stochastic panel
        lineBase(xy(stochD, SEMI), "#8fd9ea", 1.5, { xAxisIndex: 3, yAxisIndex: 3 }),
        lineBase(xy(stochK, SEMI), "#ffffff", 1.5, {
          xAxisIndex: 3,
          yAxisIndex: 3,
          markLine: {
            symbol: ["none", "none"],
            silent: true,
            label: { show: false },
            data: [
              hline(80, "#bdbdbd", "solid", 1.5),
              hline(20, "#bdbdbd", "solid", 1.5),
              hline(50, "#bdbdbd", "dashed", 1.5),
            ],
          },
        }),
      ],
    };

    chart.setOption(option);

    // ---------- graphics: header, legends, separators, right-axis tags
    const g: any[] = [];
    g.push(txt(5, 9, "INDX/CME", `12px ${LATO}`, "#e6e9ec"));
    g.push(txt(5, 27, "$XAU:$GOLD - Gold & Silver Index - Philadelphia/Gold - Spot (EOD)", `bold 13.5px ${LATO}`, "#ffffff"));
    g.push(txt(5, 43, "20-Mar-2026", `10px ${LATO}`, "#bcc4cc"));

    // StockCharts mark
    g.push(txt(1834, 8, "StockCharts.com", `11px ${LATO}`, "#ffffff", "left"));
    g.push(txt(1816, 8, "©", `11px ${LATO}`, "#ffffff", "right"));
    g.push({ type: "rect", z: 50, shape: { x: 1820, y: 3, width: 11, height: 10 }, style: { fill: "#9aa4ae", stroke: "#e0e0e0", lineWidth: 1 } });
    g.push({ type: "polyline", z: 51, shape: { points: [[1821, 11], [1825, 7], [1827, 9], [1831, 4]] }, style: { stroke: "#d02020", lineWidth: 1.2, fill: "none" } });

    g.push(txt(1896, 26, "0.07", `bold 17px ${LATO}`, "#ffffff", "right"));
    g.push({ type: "polygon", z: 50, shape: { points: [[1902, 20], [1913, 20], [1907.5, 31]] }, style: { fill: "#ff0000" } });
    g.push(
      txt(1913, 45, "{g|O:} {w|0.09}   {g|H:} {w|0.09}   {g|L:} {w|0.07}  {r|0.00 (0.00%)}", `12px ${LATO}`, "#ffffff", "right", {
        g: { fill: "#b4bcc6", fontSize: 12, fontFamily: LATO },
        w: { fill: "#ffffff", fontSize: 12, fontFamily: LATO },
        r: { fill: "#ff2020", fontSize: 12, fontFamily: LATO },
      })
    );

    // main legend
    MAIN_LEGEND.forEach((l, i) => {
      const y = 65 + i * 17;
      g.push({ type: "rect", z: 50, shape: { x: 2, y: y - 6, width: 4, height: 12 }, style: { fill: l.sw } });
      g.push(
        txt(8, y, `{n|${l.name}}${l.val ? ` {v|${l.val}}` : ""}`, `bold 12px ${NARROW}`, "#ffffff", "left", {
          n: { fill: "#ffffff", fontSize: 12, fontWeight: "bold", fontFamily: NARROW },
          v: { fill: l.col, fontSize: 12, fontFamily: NARROW },
        })
      );
    });

    const subRich = {
      n: { fill: "#ffffff", fontSize: 12, fontWeight: "bold", fontFamily: NARROW },
      w: { fill: "#ffffff", fontSize: 12, fontFamily: NARROW },
      c: { fill: "#8fd9ea", fontSize: 12, fontFamily: NARROW },
    };
    const subLegend = (y: number, text: string) => {
      g.push({ type: "rect", z: 50, shape: { x: 2, y: y - 6, width: 4, height: 12 }, style: { fill: "#ffffff" } });
      g.push(txt(8, y, text, `12px ${NARROW}`, "#ffffff", "left", subRich));
    };
    subLegend(690, "{n|MACD(12,26,9)} {w|0.00,240}   {c|0.00,360}   {w|-0.00,120}");
    subLegend(853, "{n|RSI(14)} {w|44.93}");
    subLegend(945, "{n|Slow Stoch %K(14) %D(3)} {w|20.16}   {c|42.38}");

    // panel separators
    [678.5, 843, 933.5].forEach((y) => {
      g.push({ type: "line", z: 60, shape: { x1: 0, y1: y, x2: 1863, y2: y }, style: { stroke: "#4f7fae", lineWidth: 2 } });
    });

    // dotted extension of the 5-year ticks down to the second label row
    const axisBottom = GRIDS[0].top + GRIDS[0].height;
    YEAR_TICKS.filter((yr) => yr % 5 === 0).forEach((yr) => {
      const x = chart.convertToPixel({ xAxisIndex: 0 } as any, yr) as unknown as number;
      g.push({
        type: "line",
        z: 40,
        shape: { x1: x, y1: axisBottom + 5, x2: x, y2: axisBottom + 20 },
        style: { stroke: "#cfcfcf", lineWidth: 1, lineDash: [2, 2] },
      });
    });

    // right-axis value tags
    const TAG_X = 1866;
    const addTags = (tags: any[], axis: number) => {
      tags.forEach((t) => {
        const y = chart.convertToPixel({ yAxisIndex: axis } as any, t.v) as unknown as number;
        g.push(...tagEls(TAG_X, y, t));
      });
    };
    addTags(MAIN_TAGS, 0);
    addTags(MACD_TAGS, 1);
    addTags(RSI_TAGS, 2);
    addTags(STOCH_TAGS, 3);
    // volume tag at the bottom of the price panel
    const volY = (chart.convertToPixel({ yAxisIndex: 0 } as any, Y_RANGES[0][0]) as unknown as number) - 8;
    g.push(...tagEls(TAG_X, volY, { text: "0.00", bg: "#ff0000", border: "#ffb0b0", fg: "#ffffff" }));

    chart.setOption({ graphic: g });

    return () => chart.dispose();
  }, []);

  return (
    <div
      ref={ref}
      style={{ position: "fixed", left: 0, top: 0, width: 1920, height: 1022, background: BG }}
    />
  );
}
